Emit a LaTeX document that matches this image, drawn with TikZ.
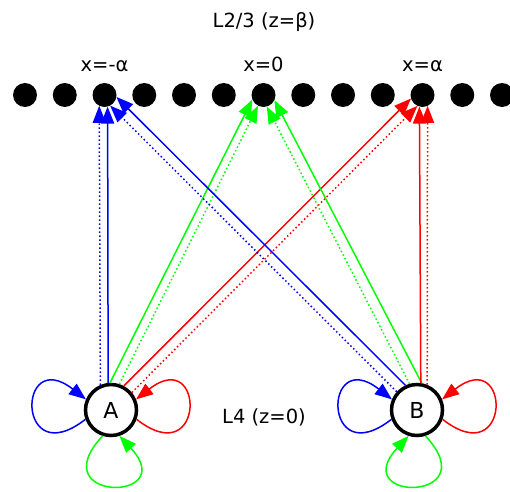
\documentclass[tikz,border=0pt]{standalone}
\usepackage{fontspec}
\setmainfont{DejaVu Sans}
\usepackage{tikz}
\usetikzlibrary{arrows.meta}
\tikzset{
  site/.style = {circle, fill=black, minimum size=24pt, inner sep=0pt, outer sep=0pt},
  cell/.style = {circle, draw=black, line width=3.5pt, fill=white, minimum size=51pt,
                 inner sep=0pt, font=\fontsize{22}{26}\selectfont},
  lbl/.style  = {anchor=base, inner sep=0pt, font=\fontsize{19.5}{23}\selectfont},
  ed/.style   = {-{Triangle[length=17pt,width=13pt]}, line width=1.5pt},
  edd/.style  = {ed, dash pattern=on 1.5pt off 2.5pt},
  lp/.style   = {ed, distance=88pt},
  lpb/.style  = {ed, distance=91pt},
}

\begin{document}
\begin{tikzpicture}[x=1pt, y=1pt]
  \useasboundingbox (0,0) rectangle (510,491);
  % layer L2/3
  \node[lbl] (top) at (264,463) {L2/3 (z=β)};
  \node[site] (d1) at (25,396) {};
  \node[site] (d2) at (64.75,396) {};
  \node[site] (d3) at (104.5,396) {};
  \node[site] (d4) at (144.25,396) {};
  \node[site] (d5) at (184,396) {};
  \node[site] (d6) at (223.75,396) {};
  \node[site] (d7) at (263.5,396) {};
  \node[site] (d8) at (303.25,396) {};
  \node[site] (d9) at (343,396) {};
  \node[site] (d10) at (382.75,396) {};
  \node[site] (d11) at (422.5,396) {};
  \node[site] (d12) at (462.25,396) {};
  \node[site] (d13) at (502,396) {};
  \node[lbl] (xl) at (104.5,419) {x=-α};
  \node[lbl] (xm) at (263.5,419) {x=0};
  \node[lbl] (xr) at (422.5,419) {x=α};
  % layer L4
  \node[cell] (A) at (111,81) {A};
  \node[cell] (B) at (417,81) {B};
  \node[lbl] (bot) at (264,68) {L4 (z=0)};
  % A to L2/3
  \draw[ed, blue] (A.96) -- (d3.285);
  \draw[edd, blue] (A.113) -- (d3.244);
  \draw[ed, green] (A.92) -- (d7.202);
  \draw[edd, green] (A.72) -- (d7.243);
  \draw[ed, red] (A.62) -- (d11.197);
  \draw[edd, red] (A.40) -- (d11.245);
  % B to L2/3
  \draw[ed, blue] (B.115) -- (d3.351);
  \draw[edd, blue] (B.138) -- (d3.298);
  \draw[ed, green] (B.80) -- (d7.335);
  \draw[edd, green] (B.106) -- (d7.286);
  \draw[ed, red] (B.82) -- (d11.255);
  \draw[edd, red] (B.68) -- (d11.295);
  % self loops
  \draw[lp, blue] (A.200) to[out=218, in=142] (A.157);
  \draw[lp, red] (A.340) to[out=322, in=38] (A.23);
  \draw[lpb, green] (A.252) to[out=227, in=313] (A.288);
  \draw[lp, blue] (B.200) to[out=218, in=142] (B.157);
  \draw[lp, red] (B.340) to[out=322, in=38] (B.23);
  \draw[lpb, green] (B.288) to[out=313, in=227] (B.252);
\end{tikzpicture}
\end{document}
